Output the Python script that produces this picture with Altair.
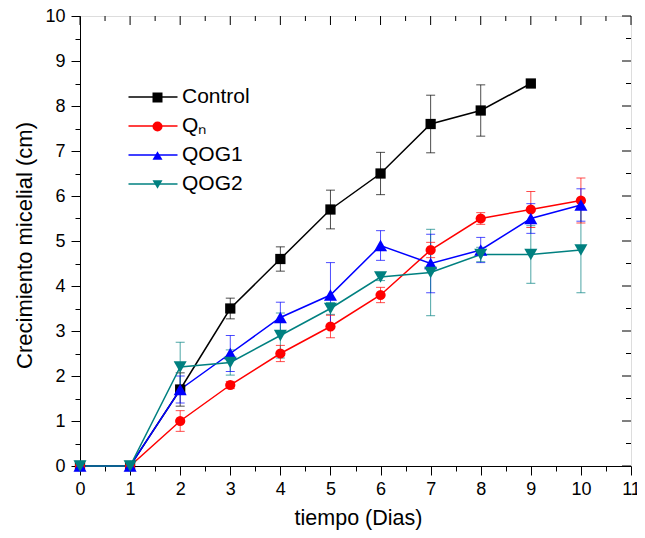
import altair as alt
import pandas as pd

# ---------------- data ----------------
days = [0, 1, 2, 3, 4, 5, 6, 7, 8, 9, 10]
names = ["Control", "Qₙ", "QOG1", "QOG2"]
colors = ["#000000", "#FF0000", "#0000FF", "#008080"]
shapes = ["square", "circle", "triangle-up", "triangle-down"]

control = [0, 0, 1.7, 3.5, 4.6, 5.7, 6.5, 7.6, 7.9, 8.5]
control_err = [0, 0, 0.37, 0.23, 0.27, 0.43, 0.47, 0.64, 0.57, 0]
qn = [0, 0, 1.0, 1.8, 2.5, 3.1, 3.8, 4.8, 5.5, 5.7, 5.9]
qn_err = [0, 0, 0.23, 0.08, 0.18, 0.25, 0.17, 0.17, 0.13, 0.4, 0.5]
qog1 = [0, 0, 1.7, 2.5, 3.3, 3.8, 4.9, 4.5, 4.8, 5.5, 5.8]
qog1_err = [0, 0, 0.3, 0.4, 0.34, 0.72, 0.33, 0.65, 0.28, 0.33, 0.36]
qog2 = [0, 0, 2.2, 2.3, 2.9, 3.5, 4.2, 4.3, 4.7, 4.7, 4.8]
qog2_err = [0, 0, 0.55, 0.28, 0.5, 0.13, 0.08, 0.96, 0.16, 0.64, 0.95]

x_major = [0, 1, 2, 3, 4, 5, 6, 7, 8, 9, 10, 11]
x_minor = [0.5, 1.5, 2.5, 3.5, 4.5, 5.5, 6.5, 7.5, 8.5, 9.5, 10.5]
y_major = [0, 1, 2, 3, 4, 5, 6, 7, 8, 9, 10]
y_minor = [0.5, 1.5, 2.5, 3.5, 4.5, 5.5, 6.5, 7.5, 8.5, 9.5]

x_title = "tiempo (Dias)"
y_title = "Crecimiento micelial (cm)"

# ---------------- tables ----------------
names_pt = [n + " " for n in names]
names_err = [n + "  " for n in names]
rows = []
for name, npt, nerr, vals, errs in zip(names, names_pt, names_err,
                                       [control, qn, qog1, qog2],
                                       [control_err, qn_err, qog1_err, qog2_err]):
    for d, v, e in zip(days, vals, errs):
        rows.append(dict(series=name, series_pt=npt, series_err=nerr, day=d, val=v,
                         lo=v - e, hi=v + e, err=e))
df = pd.DataFrame(rows)
err_df = df[df.err > 0]

top_major = pd.DataFrame({"day": x_major})
top_minor = pd.DataFrame({"day": x_minor})
right_major = pd.DataFrame({"val": y_major})
right_minor = pd.DataFrame({"val": y_minor})

W, H = 551, 450
FONT = "Liberation Sans"
MAJ, MIN = 9, 5

xscale = alt.Scale(domain=[0, 11], nice=False, zero=False)
yscale = alt.Scale(domain=[0, 10], nice=False, zero=False)

tick_cond = {"condition": {"test": "datum.value % 1 !== 0", "value": MIN}, "value": MAJ}

xaxis = alt.Axis(
    values=sorted(x_major + x_minor),
    labelExpr="datum.value % 1 === 0 ? format(datum.value, 'd') : ''",
    tickSize=tick_cond, tickColor="black", tickWidth=1,
    domainColor="black", domainWidth=1, grid=False,
    labelFont=FONT, labelFontSize=18, labelColor="black", labelPadding=5,
    labelOverlap=False, labelFlush=False,
    titleFont=FONT, titleFontSize=21.5, titleFontWeight="normal", titleColor="black",
    titleX=278, titleY=58, titleBaseline="alphabetic", titleAlign="center",
)
yaxis = alt.Axis(
    values=sorted(y_major + y_minor),
    labelExpr="datum.value % 1 === 0 ? format(datum.value, 'd') : ''",
    tickSize=tick_cond, tickColor="black", tickWidth=1,
    domainColor="black", domainWidth=1, grid=False,
    labelFont=FONT, labelFontSize=18, labelColor="black", labelPadding=6,
    labelOverlap=False, labelFlush=False,
    titleFont=FONT, titleFontSize=22, titleFontWeight="normal", titleColor="black",
    titleX=-56, titleY=229, titleBaseline="middle", titleAlign="center", titleAngle=270,
)


def X(field):
    return alt.X(f"{field}:Q", scale=xscale, axis=xaxis, title=x_title)


def Y(field):
    return alt.Y(f"{field}:Q", scale=yscale, axis=yaxis, title=y_title)


err_color = alt.Color("series_err:N", scale=alt.Scale(domain=names_err, range=colors), legend=None)

err_rule = alt.Chart(err_df).mark_rule(strokeWidth=1, opacity=0.7).encode(
    x=X("day"), y=Y("lo"), y2="hi", color=err_color)
cap_lo = alt.Chart(err_df).mark_tick(orient="horizontal", size=9, thickness=1, opacity=0.7).encode(
    x=X("day"), y=Y("lo"), color=err_color)
cap_hi = alt.Chart(err_df).mark_tick(orient="horizontal", size=9, thickness=1, opacity=0.7).encode(
    x=X("day"), y=Y("hi"), color=err_color)

line_legend = alt.Legend(
    orient="none", legendX=54.5, legendY=62.5, title=None, padding=0,
    symbolType="M-1.4,0H1.4", symbolSize=1225, symbolStrokeWidth=1.5,
    labelFont=FONT, labelFontSize=21, labelColor="black", labelOffset=10.5,
    rowPadding=0,
)
point_legend = alt.Legend(
    orient="none", legendX=67, legendY=71, title=None, padding=0,
    symbolSize=100, symbolStrokeWidth=0,
    labelFont=FONT, labelFontSize=21, labelColor="transparent", labelOffset=25,
    rowPadding=7,
)

lines = alt.Chart(df).mark_line(strokeWidth=1.5).encode(
    x=X("day"), y=Y("val"),
    stroke=alt.Stroke("series:N", scale=alt.Scale(domain=names, range=colors), legend=line_legend),
    order="day:Q",
)
fill_enc = alt.Fill("series_pt:N", scale=alt.Scale(domain=names_pt, range=colors), legend=point_legend)
shape_enc = alt.Shape("series_pt:N", scale=alt.Scale(domain=names_pt, range=shapes), legend=point_legend)

points_a = alt.Chart(df).transform_filter(
    alt.FieldOneOfPredicate(field="series", oneOf=names[:2])
).mark_point(filled=True, size=105, opacity=1).encode(
    x=X("day"), y=Y("val"), fill=fill_enc, shape=shape_enc)
points_b = alt.Chart(df).transform_filter(
    alt.FieldOneOfPredicate(field="series", oneOf=names[2:])
).mark_point(filled=True, size=170, opacity=1).encode(
    x=X("day"), y=Y("val"), fill=fill_enc, shape=shape_enc)

top_maj = alt.Chart(top_major).mark_rule(color="black", strokeWidth=1).encode(
    x=X("day"), y=alt.value(0), y2=alt.value(MAJ))
top_min = alt.Chart(top_minor).mark_rule(color="black", strokeWidth=1).encode(
    x=X("day"), y=alt.value(0), y2=alt.value(MIN))
right_maj = alt.Chart(right_major).mark_rule(color="black", strokeWidth=1).encode(
    y=Y("val"), x=alt.value(W), x2=alt.value(W - MAJ))
right_min = alt.Chart(right_minor).mark_rule(color="black", strokeWidth=1).encode(
    y=Y("val"), x=alt.value(W), x2=alt.value(W - MIN))

chart = alt.layer(
    err_rule, cap_lo, cap_hi, lines, points_a, points_b,
    top_maj, top_min, right_maj, right_min
).properties(
    width=W, height=H,
    autosize=alt.AutoSizeParams(type="none"),
    padding={"left": 72, "top": 8, "right": 6, "bottom": 64},
).configure_view(stroke="black", strokeWidth=1).configure(background="white")

chart.save("out.html", embed_options={"renderer": "svg", "actions": False})
